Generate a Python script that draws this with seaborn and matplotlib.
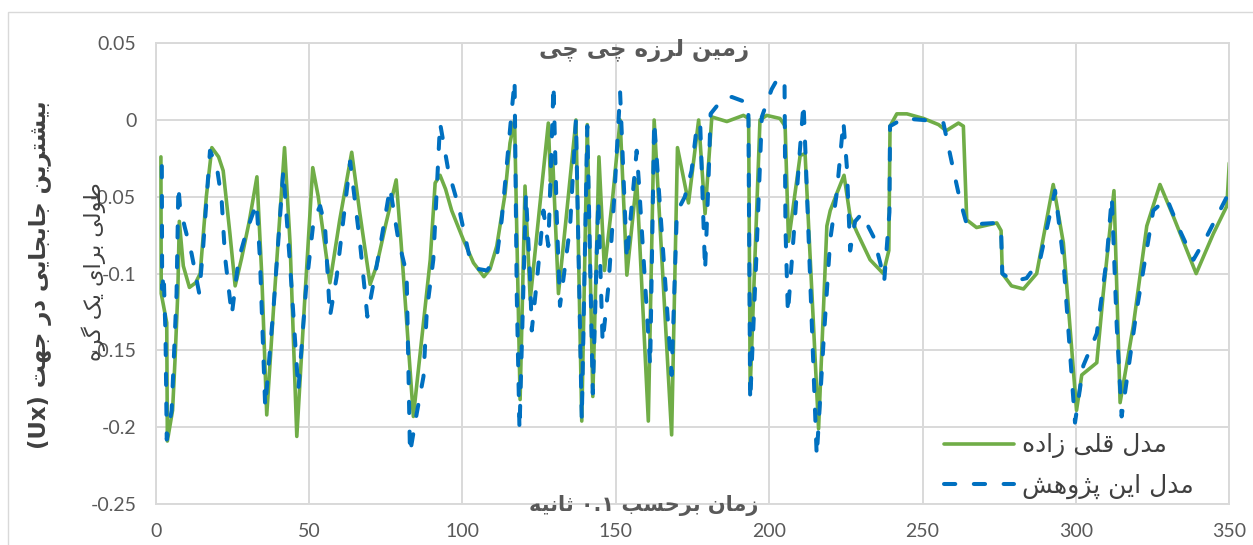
import re
import matplotlib
matplotlib.use("Agg")
import matplotlib.pyplot as plt
import seaborn as sns
import pandas as pd
from matplotlib.patches import Rectangle

# ---------------- data ----------------
title_text = "زمین لرزه چی چی"
xlabel_text = "زمان برحسب ۰.۱ ثانیه"
ylabel_line1 = "بیشترین جابجایی در جهت (Ux)"
ylabel_line2 = "طولی برای یک گره"
series_names = ["مدل قلی زاده", "مدل این پژوهش"]

x_ticks = [0, 50, 100, 150, 200, 250, 300, 350]
y_ticks = [-0.25, -0.2, -0.15, -0.1, -0.05, 0, 0.05]
y_tick_labels = ["-0.25", "-0.2", "-0.15", "-0.1", "-0.05", "0", "0.05"]

green_x = [1.7, 1.8, 3.6, 3.8, 5.5, 6.3, 7.2, 7.7, 9.0, 11.0, 13.0, 14.5, 16.5, 18.3, 20.5,
           22.0, 24.2, 25.9, 28.0, 30.5, 33.0, 34.6, 36.2, 38.5, 42.0, 43.8, 46.0, 48.5, 51.2,
           53.0, 56.8, 60.0, 63.9, 66.5, 69.9, 72.0, 75.0, 78.4, 80.0, 84.0, 89.5, 91.1, 92.7,
           94.5, 96.5, 100.3, 103.6, 107.0, 109.0, 111.2, 113.9, 115.5, 117.0, 117.9, 118.8,
           120.4, 122.1, 125.0, 128.0, 128.7, 129.4, 131.3, 134.0, 137.0, 138.9, 140.7, 142.5,
           144.5, 146.3, 149.0, 151.4, 153.6, 156.8, 160.6, 162.5, 168.2, 170.1, 173.7, 177.0,
           179.1, 181.3, 186.2, 191.6, 193.3, 193.8, 197.0, 199.2, 203.5, 205.2, 206.3, 210.1,
           211.7, 216.1, 218.8, 219.9, 222.0, 224.4, 226.4, 228.6, 232.9, 237.2, 239.0, 239.4,
           241.6, 244.9, 250.3, 255.2, 257.7, 261.7, 263.3, 264.4, 267.6, 274.2, 275.6, 276.0,
           279.0, 282.9, 287.2, 292.6, 295.9, 300.2, 301.9, 306.8, 308.9, 312.4, 314.4, 318.7,
           323.1, 327.4, 331.8, 339.2, 344.8, 349.2, 350.0]
green_y = [-0.024, -0.113, -0.132, -0.209, -0.189, -0.156, -0.113, -0.066, -0.095, -0.109,
           -0.106, -0.100, -0.050, -0.018, -0.024, -0.033, -0.074, -0.108, -0.090, -0.066,
           -0.037, -0.102, -0.192, -0.120, -0.018, -0.080, -0.206, -0.120, -0.031, -0.050,
           -0.106, -0.065, -0.021, -0.060, -0.107, -0.095, -0.068, -0.039, -0.080, -0.193,
           -0.091, -0.041, -0.036, -0.045, -0.059, -0.078, -0.093, -0.102, -0.097, -0.082,
           -0.048, -0.015, 0.000, -0.091, -0.182, -0.043, -0.117, -0.060, -0.002, -0.040,
           -0.024, -0.113, -0.060, 0.000, -0.196, -0.003, -0.180, -0.024, -0.098, -0.050,
           0.000, -0.101, -0.039, -0.196, 0.000, -0.205, -0.018, -0.054, 0.000, -0.061,
           0.002, -0.001, 0.003, 0.001, -0.175, 0.000, 0.003, 0.001, -0.004, -0.079, -0.023,
           -0.022, -0.201, -0.069, -0.059, -0.048, -0.036, -0.063, -0.073, -0.091, -0.100,
           -0.085, -0.004, 0.004, 0.004, 0.001, -0.003, -0.007, -0.002, -0.004, -0.065,
           -0.070, -0.067, -0.072, -0.100, -0.108, -0.110, -0.100, -0.042, -0.080, -0.189,
           -0.166, -0.158, -0.113, -0.046, -0.184, -0.134, -0.069, -0.042, -0.063, -0.100,
           -0.074, -0.056, -0.028]

blue_x = [2.0, 2.1, 2.6, 3.2, 3.6, 5.2, 6.8, 7.4, 7.9, 9.5, 11.7, 14.2, 15.5, 17.7, 19.9,
          21.5, 22.6, 24.8, 27.0, 29.7, 32.9, 34.0, 35.7, 38.5, 41.6, 44.0, 46.5, 49.0, 51.5,
          53.6, 55.2, 56.8, 59.0, 63.4, 66.6, 69.0, 73.2, 76.4, 79.1, 81.8, 82.9, 85.1, 87.3,
          88.4, 90.5, 92.7, 95.4, 98.7, 102.5, 105.2, 108.0, 111.2, 112.8, 116.1, 117.0, 117.7,
          118.6, 119.7, 120.7, 122.0, 122.6, 124.5, 126.4, 128.0, 129.7, 130.7, 131.8, 135.1,
          137.0, 138.9, 140.7, 142.5, 144.3, 145.7, 147.6, 149.5, 151.4, 153.6, 156.8, 157.5,
          161.2, 162.5, 168.2, 169.9, 172.5, 174.7, 176.4, 177.5, 178.5, 179.1, 180.2, 180.9,
          184.5, 187.8, 193.2, 193.8, 195.8, 197.6, 200.8, 202.5, 205.0, 205.3, 206.1, 207.4,
          210.0, 211.2, 211.8, 215.5, 217.7, 219.9, 222.0, 224.2, 225.3, 226.4, 228.0, 230.2,
          234.0, 236.2, 237.5, 239.2, 239.4, 243.8, 250.3, 256.8, 260.1, 262.2, 264.4, 265.5,
          274.2, 275.6, 276.0, 279.6, 283.9, 288.3, 293.2, 295.9, 299.7, 302.4, 306.8, 310.0,
          311.7, 313.3, 314.9, 319.8, 325.2, 329.6, 333.9, 338.3, 342.6, 349.2, 350.0]
blue_y = [-0.030, -0.110, -0.100, -0.140, -0.208, -0.189, -0.113, -0.043, -0.056, -0.070,
          -0.087, -0.113, -0.082, -0.020, -0.030, -0.052, -0.089, -0.127, -0.091, -0.072,
          -0.054, -0.091, -0.187, -0.120, -0.033, -0.100, -0.176, -0.110, -0.065, -0.056,
          -0.069, -0.128, -0.102, -0.027, -0.080, -0.128, -0.082, -0.044, -0.078, -0.100,
          -0.217, -0.191, -0.167, -0.124, -0.091, -0.002, -0.033, -0.056, -0.091, -0.097,
          -0.098, -0.089, -0.065, 0.007, 0.026, -0.113, -0.202, -0.120, -0.048, -0.100,
          -0.137, -0.100, -0.059, -0.082, 0.023, -0.060, -0.121, -0.069, 0.000, -0.195,
          -0.004, -0.178, -0.052, -0.145, -0.108, -0.050, 0.018, -0.091, -0.020, -0.040,
          -0.160, -0.001, -0.166, -0.060, -0.050, -0.033, -0.004, -0.002, -0.063, -0.098,
          -0.040, 0.004, 0.013, 0.015, 0.011, -0.183, -0.090, 0.002, 0.020, 0.026, 0.027,
          -0.070, -0.126, -0.091, -0.020, 0.011, -0.020, -0.219, -0.145, -0.078, -0.048,
          -0.001, -0.030, -0.085, -0.066, -0.061, -0.076, -0.093, -0.105, -0.060, -0.004,
          0.001, 0.000, -0.002, -0.033, -0.052, -0.068, -0.068, -0.067, -0.072, -0.100,
          -0.105, -0.103, -0.091, -0.046, -0.091, -0.197, -0.160, -0.139, -0.091, -0.050,
          -0.134, -0.193, -0.124, -0.059, -0.051, -0.072, -0.091, -0.076, -0.050, -0.056]

# ------------- Persian shaping (matplotlib has no complex text layout) -------------
_DUAL = {
    'ب': 'ﺏﺐﺑﺒ', 'پ': 'ﭖﭗﭘﭙ', 'ت': 'ﺕﺖﺗﺘ', 'ث': 'ﺙﺚﺛﺜ', 'ج': 'ﺝﺞﺟﺠ', 'چ': 'ﭺﭻﭼﭽ',
    'ح': 'ﺡﺢﺣﺤ', 'خ': 'ﺥﺦﺧﺨ', 'س': 'ﺱﺲﺳﺴ', 'ش': 'ﺵﺶﺷﺸ', 'ص': 'ﺹﺺﺻﺼ', 'ض': 'ﺽﺾﺿﻀ',
    'ط': 'ﻁﻂﻃﻄ', 'ظ': 'ﻅﻆﻇﻈ', 'ع': 'ﻉﻊﻋﻌ', 'غ': 'ﻍﻎﻏﻐ', 'ف': 'ﻑﻒﻓﻔ', 'ق': 'ﻕﻖﻗﻘ',
    'ک': 'ﮎﮏﮐﮑ', 'گ': 'ﮒﮓﮔﮕ', 'ل': 'ﻝﻞﻟﻠ', 'م': 'ﻡﻢﻣﻤ', 'ن': 'ﻥﻦﻧﻨ', 'ه': 'ﻩﻪﻫﻬ',
    'ی': 'ﯼﯽﯾﯿ', 'ي': 'ﻱﻲﻳﻴ',
}
_RIGHT = {'ا': 'ﺍﺎ', 'د': 'ﺩﺪ', 'ذ': 'ﺫﺬ', 'ر': 'ﺭﺮ', 'ز': 'ﺯﺰ', 'ژ': 'ﮊﮋ', 'و': 'ﻭﻮ', 'آ': 'ﺁﺂ'}


def _is_letter(c):
    return c in _DUAL or c in _RIGHT


def persian(s):
    out = []
    for i, c in enumerate(s):
        prev_j = i > 0 and s[i - 1] in _DUAL
        next_j = i + 1 < len(s) and _is_letter(s[i + 1])
        if c in _DUAL:
            f = _DUAL[c]
            if prev_j and next_j:
                out.append(f[3])
            elif prev_j:
                out.append(f[1])
            elif next_j:
                out.append(f[2])
            else:
                out.append(f[0])
        elif c in _RIGHT:
            out.append(_RIGHT[c][1] if prev_j else _RIGHT[c][0])
        else:
            out.append(c)
    shaped = ''.join(out)
    tokens = re.findall(r'[A-Za-z0-9۰-۹.]+|[^A-Za-z0-9۰-۹.]+', shaped)
    mirror = str.maketrans('()', ')(')
    vis = []
    for t in reversed(tokens):
        if re.match(r'[A-Za-z0-9۰-۹.]', t):
            vis.append(t)
        else:
            vis.append(t[::-1].translate(mirror))
    return ''.join(vis)


# ---------------- figure ----------------
sns.set_theme(style="white")
plt.rcParams['font.family'] = ['DejaVu Sans']

W, H = 1253, 545
fig = plt.figure(figsize=(W / 100, H / 100), dpi=100)
fig.patch.set_facecolor('white')
ax = fig.add_axes([155.7 / W, 1 - 504 / H, (1229.3 - 155.7) / W, (504 - 43.2) / H])

grid_c = '#D9D9D9'
text_c = '#595959'

sns.lineplot(x=green_x, y=green_y, ax=ax, color='#70AD47', linewidth=2.6,
             estimator=None, sort=False, label=persian(series_names[0]),
             solid_capstyle='round', solid_joinstyle='round')
sns.lineplot(x=blue_x, y=blue_y, ax=ax, color='#0070C0', linewidth=2.9,
             estimator=None, sort=False, label=persian(series_names[1]),
             linestyle=(0, (2.8, 4.6)), dash_capstyle='round', dash_joinstyle='round')

ax.set_xlim(0, 350)
ax.set_ylim(-0.25, 0.05)
ax.set_xticks(x_ticks)
ax.set_yticks(y_ticks)
ax.set_yticklabels(y_tick_labels)
ax.grid(True, color=grid_c, linewidth=1.4)
ax.set_axisbelow(True)
for sp in ax.spines.values():
    sp.set_color(grid_c)
    sp.set_linewidth(1.4)
ax.tick_params(axis='both', length=0, colors=text_c, labelsize=14, pad=14)
for lab in ax.get_xticklabels() + ax.get_yticklabels():
    lab.set_fontfamily(['Lato', 'DejaVu Sans'])
ax.set_xlabel('')
ax.set_ylabel('')

# title and axis titles
fig.text(644 / W, 1 - 50 / H, persian(title_text), ha='center', va='center',
         fontsize=16.5, color=text_c, fontweight='bold')
fig.text(644 / W, 1 - 505 / H, persian(xlabel_text), ha='center', va='center',
         fontsize=15, color=text_c, fontweight='bold')
fig.text(40 / W, 1 - 275 / H, persian(ylabel_line1), ha='center', va='center',
         rotation=90, fontsize=16.4, color='#404040', fontweight='bold')
fig.text(94 / W, 1 - 272 / H, persian(ylabel_line2), ha='center', va='center',
         rotation=90, fontsize=16, color='#404040')

leg = ax.legend(loc='upper left', bbox_to_anchor=(931 / W, 1 - 421 / H),
                bbox_transform=fig.transFigure, frameon=False, fontsize=18,
                handlelength=2.8, handletextpad=0.32, labelspacing=0.6,
                borderpad=0, labelcolor='#404040')

# outer chart-area border
fig.patches.append(Rectangle((8 / W, -0.2), 1.3, 1.2 - 12 / H, transform=fig.transFigure,
                             fill=False, edgecolor=grid_c, linewidth=1.0))

fig.savefig('out.png', dpi=100)
